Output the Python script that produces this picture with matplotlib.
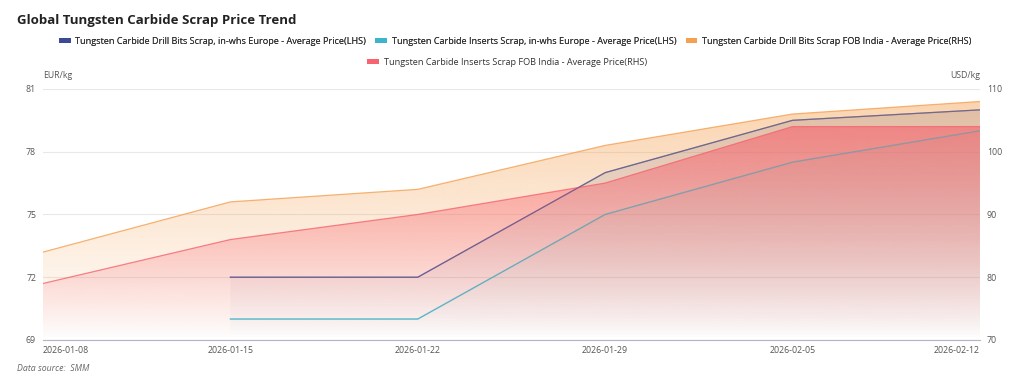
import numpy as np
import matplotlib.pyplot as plt
from matplotlib.patches import Patch
from matplotlib.colors import to_rgb

plt.rcParams['font.family'] = ['Open Sans', 'DejaVu Sans']

# data
dates = ['2026-01-08', '2026-01-15', '2026-01-22', '2026-01-29', '2026-02-05', '2026-02-12']
drill_eu = [np.nan, 72, 72, 77, 79.5, 80]       # EUR/kg (LHS)
inserts_eu = [np.nan, 70, 70, 75, 77.5, 79]     # EUR/kg (LHS)
drill_in = [84, 92, 94, 101, 106, 108]           # USD/kg (RHS)
inserts_in = [79, 86, 90, 95, 104, 104]          # USD/kg (RHS)

names = ['Tungsten Carbide Drill Bits Scrap, in-whs Europe - Average Price(LHS)',
         'Tungsten Carbide Inserts Scrap, in-whs Europe - Average Price(LHS)',
         'Tungsten Carbide Drill Bits Scrap FOB India - Average Price(RHS)',
         'Tungsten Carbide Inserts Scrap FOB India - Average Price(RHS)']
colors = ['#3c4a96', '#3cb4cc', '#f5a050', '#f7636e']

left_lim = (69, 81)
right_lim = (70, 110)


def grad_area(ax, x, y, color, a_top, ybot, z):
    x = np.asarray(x, float)
    y = np.asarray(y, float)
    ok = ~np.isnan(y)
    x, y = x[ok], y[ok]
    poly = ax.fill_between(x, y, ybot, facecolor='none', edgecolor='none', zorder=z)
    path = poly.get_paths()[0]
    img = np.zeros((256, 1, 4))
    img[:, :, :3] = to_rgb(color)
    img[:, 0, 3] = np.linspace(a_top, 0.0, 256)
    im = ax.imshow(img, aspect='auto', origin='upper', zorder=z,
                   extent=[x.min(), x.max(), ybot, y.max()], interpolation='bilinear')
    im.set_clip_path(path, transform=ax.transData)
    ax.plot(x, y, color=color, lw=0.9, alpha=0.8, zorder=z + 0.1)
    return x, y


fig = plt.figure(figsize=(10.24, 3.85), dpi=100)
ax = fig.add_axes([0.042, 0.117, 0.915, 0.652])
ax2 = ax.twinx()
xs = np.arange(len(dates))

d_x, d_y = grad_area(ax, xs, drill_eu, colors[0], 0.22, left_lim[0], 2)
i_x, i_y = grad_area(ax, xs, inserts_eu, colors[1], 0.15, left_lim[0], 3)
grad_area(ax2, xs, drill_in, colors[2], 0.45, right_lim[0], 2)
grad_area(ax2, xs, inserts_in, colors[3], 0.62, right_lim[0], 3)
# europe lines show through the india areas a little
ax2.plot(d_x, d_y, color=colors[0], lw=0.9, alpha=0.45, zorder=5, transform=ax.transData)
ax2.plot(i_x, i_y, color=colors[1], lw=0.9, alpha=0.45, zorder=5, transform=ax.transData)

ax.set_xlim(0, len(dates) - 1)
ax.set_ylim(*left_lim)
ax2.set_ylim(*right_lim)
ax.set_yticks([69, 72, 75, 78, 81])
ax2.set_yticks([70, 80, 90, 100, 110])
ax.set_xticks(xs)
ax.set_xticklabels(dates)
labs = ax.get_xticklabels()
labs[0].set_ha('left')
labs[-1].set_ha('right')

for a in (ax, ax2):
    for s in a.spines.values():
        s.set_visible(False)
    a.tick_params(length=0, labelsize=6.3, colors='#555555', pad=4)
ax.spines['bottom'].set_visible(True)
ax.spines['bottom'].set_color('#b0b4c6')
ax.spines['bottom'].set_zorder(10)
ax.grid(axis='y', color='#e8e8e8', lw=0.8)
ax.set_axisbelow(True)
ax2.set_zorder(ax.get_zorder() + 1)
ax2.patch.set_visible(False)
ax.tick_params(axis='y', pad=5)
ax2.tick_params(axis='y', pad=5)

fig.text(0.017, 0.946, 'Global Tungsten Carbide Scrap Price Trend', fontsize=9.5,
         fontweight='bold', color='#222222', va='center')
fig.text(0.042, 0.805, 'EUR/kg', fontsize=6.3, color='#555555', va='center')
fig.text(0.957, 0.805, 'USD/kg', fontsize=6.3, color='#555555', va='center', ha='right')
fig.text(0.017, 0.043, 'Data source:  SMM', fontsize=6.3, color='#666666',
         style='italic', va='center')

handles = [Patch(facecolor=c, edgecolor='none') for c in colors]
leg1 = fig.legend(handles[:3], names[:3], loc='center', bbox_to_anchor=(0.503, 0.893),
                  ncol=3, frameon=False, fontsize=6.6, handlelength=1.3, handleheight=0.5,
                  handletextpad=0.5, columnspacing=1.0, labelcolor='#333333')
fig.add_artist(leg1)
fig.legend(handles[3:], names[3:], loc='center', bbox_to_anchor=(0.495, 0.838),
           ncol=1, frameon=False, fontsize=6.6, handlelength=1.3, handleheight=0.5,
           handletextpad=0.5, labelcolor='#333333')

fig.savefig('out.png', dpi=100)
